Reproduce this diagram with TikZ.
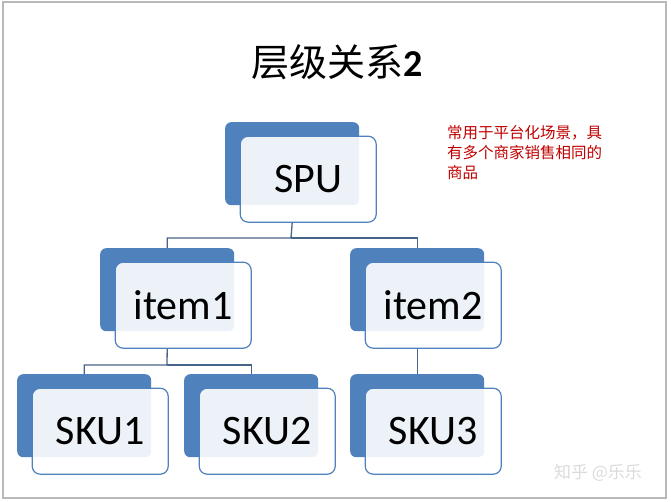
\documentclass[tikz,border=0pt]{standalone}
\usepackage{fontspec}
\newfontfamily\calibrifont{Carlito}
\newfontfamily\cjk{Noto Sans CJK SC}
\definecolor{accblue}{RGB}{79,129,189}
\definecolor{conncol}{RGB}{70,100,135}
\definecolor{notered}{RGB}{192,0,0}
\begin{document}
\begin{tikzpicture}[x=1pt,y=-1pt,
  backbox/.style={rectangle,rounded corners=6pt,fill=accblue,minimum width=134pt,minimum height=83pt,inner sep=0pt,anchor=north west},
  frontbox/.style={rectangle,rounded corners=8pt,draw=accblue,line width=1.2pt,fill=white,fill opacity=0.9,text opacity=1,minimum width=136pt,minimum height=86pt,inner sep=0pt,font=\calibrifont\fontsize{42}{48}\selectfont},
  conn/.style={draw=conncol,line width=1.3pt}]
\useasboundingbox (0,0) rectangle (671,502);
\draw[gray!55,line width=1.5pt] (3,2) rectangle (666,498);
% back boxes
\node[backbox] (spub) at (225,122) {};
\node[backbox] (it1b) at (100,248) {};
\node[backbox] (it2b) at (350,248) {};
\node[backbox] (sk1b) at (17,374) {};
\node[backbox] (sk2b) at (184,374) {};
\node[backbox] (sk3b) at (350,374) {};
% front boxes
\node[frontbox] (spu) at ([shift={(16,15.5)}]spub.center) {SPU};
\node[frontbox] (it1) at ([shift={(16,15.5)}]it1b.center) {item1};
\node[frontbox] (it2) at ([shift={(16,15.5)}]it2b.center) {item2};
\node[frontbox] (sk1) at ([shift={(16,15.5)}]sk1b.center) {SKU1};
\node[frontbox] (sk2) at ([shift={(16,15.5)}]sk2b.center) {SKU2};
\node[frontbox] (sk3) at ([shift={(16,15.5)}]sk3b.center) {SKU3};
% connectors
\coordinate (j1) at (291,238);
\coordinate (j2) at (167,365);
\draw[conn] (spub.south |- spu.south) -- (j1) -| (it1b.north);
\draw[conn] (j1) -| (it2b.north);
\draw[conn] (it1b.south |- it1.south) -- (j2) -| (sk1b.north);
\draw[conn] (j2) -| (sk2b.north);
\draw[conn] (it2b.south |- it2.south) -- (sk3b.north);
% title
\node (title) at (337,62) {\cjk\fontsize{38}{44}\selectfont 层级关系{\calibrifont\bfseries 2}};
% note
\node[anchor=north west,inner sep=0pt,align=left,text=notered,font=\cjk\fontsize{15.5}{20}\selectfont] (note) at (447,125) {常用于平台化场景，具\\有多个商家销售相同的\\商品};
% watermark
\node[text=gray!28,font=\cjk\fontsize{17}{20}\selectfont] (wm) at (598,473) {知乎 @乐乐};
\end{tikzpicture}
\end{document}
